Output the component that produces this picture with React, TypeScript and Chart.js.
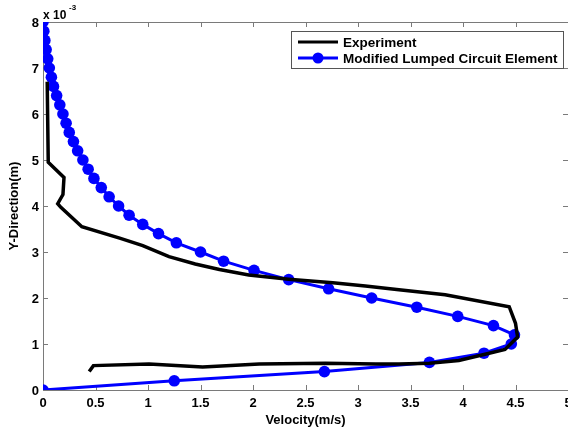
import React, { useEffect, useRef } from "react";
import { Chart, registerables } from "chart.js";

Chart.register(...registerables);

// Modified Lumped Circuit Element (velocity m/s vs y x10^-3 m)
const modelY = [0, 0.2, 0.4, 0.6, 0.8, 1.0, 1.2, 1.4, 1.6, 1.8, 2.0, 2.2, 2.4, 2.6, 2.8, 3.0, 3.2, 3.4, 3.6, 3.8, 4.0, 4.2, 4.4, 4.6, 4.8, 5.0, 5.2, 5.4, 5.6, 5.8, 6.0, 6.2, 6.4, 6.6, 6.8, 7.0, 7.2, 7.4, 7.6, 7.8, 8.0];
const modelV = [0, 1.25, 2.68, 3.68, 4.2, 4.46, 4.49, 4.29, 3.95, 3.56, 3.13, 2.72, 2.34, 2.01, 1.72, 1.5, 1.27, 1.1, 0.95, 0.82, 0.72, 0.63, 0.555, 0.485, 0.43, 0.38, 0.33, 0.29, 0.25, 0.22, 0.19, 0.16, 0.13, 0.1, 0.08, 0.06, 0.045, 0.03, 0.018, 0.008, 0];

// Experiment
const expV = [0.04, 0.05, 0.2, 0.19, 0.14, 0.17, 0.37, 0.73, 0.95, 1.2, 1.45, 1.68, 1.96, 2.34, 2.76, 3.07, 3.39, 3.83, 4.44, 4.5, 4.52, 4.4, 4.18, 3.96, 3.68, 3.39, 3.17, 2.69, 2.06, 1.52, 1.01, 0.48, 0.44];
const expY = [6.7, 4.95, 4.62, 4.25, 4.05, 3.97, 3.55, 3.3, 3.14, 2.9, 2.74, 2.62, 2.5, 2.41, 2.33, 2.26, 2.18, 2.07, 1.81, 1.45, 1.15, 0.88, 0.76, 0.64, 0.58, 0.565, 0.565, 0.58, 0.565, 0.5, 0.565, 0.53, 0.4];

const xTicks = [0, 0.5, 1, 1.5, 2, 2.5, 3, 3.5, 4, 4.5, 5];
const xTickLabels = ["0", "0.5", "1", "1.5", "2", "2.5", "3", "3.5", "4", "4.5", "5"];
const yTicks = [0, 1, 2, 3, 4, 5, 6, 7, 8];
const yTickLabels = ["0", "1", "2", "3", "4", "5", "6", "7", "8"];

const seriesNames = ["Experiment", "Modified Lumped Circuit Element"];
const xTitle = "Velocity(m/s)";
const yTitle = "Y-Direction(m)";

const FONT = "'Liberation Sans', Arial, Helvetica, sans-serif";

const matlabAxes = {
  id: "matlabAxes",
  beforeDatasetsDraw(chart: any) {
    const { ctx, chartArea: a, scales } = chart;
    const x = scales.x;
    const y = scales.y;
    ctx.save();
    ctx.strokeStyle = "#7a7a7a";
    ctx.lineWidth = 1;
    ctx.beginPath();
    ctx.moveTo(Math.round(a.left) + 0.5, Math.round(a.top) + 0.5);
    ctx.lineTo(Math.round(a.right) + 0.5, Math.round(a.top) + 0.5);
    ctx.lineTo(Math.round(a.right) + 0.5, Math.round(a.bottom) + 0.5);
    ctx.lineTo(Math.round(a.left) + 0.5, Math.round(a.bottom) + 0.5);
    ctx.closePath();
    ctx.stroke();
    const tl = 5;
    ctx.beginPath();
    xTicks.forEach((v) => {
      const px = Math.round(x.getPixelForValue(v)) + 0.5;
      ctx.moveTo(px, a.bottom);
      ctx.lineTo(px, a.bottom - tl);
      ctx.moveTo(px, a.top);
      ctx.lineTo(px, a.top + tl);
    });
    yTicks.forEach((v) => {
      const py = Math.round(y.getPixelForValue(v)) + 0.5;
      ctx.moveTo(a.left, py);
      ctx.lineTo(a.left + tl, py);
      ctx.moveTo(a.right, py);
      ctx.lineTo(a.right - tl, py);
    });
    ctx.stroke();

    ctx.fillStyle = "#000";
    ctx.font = `bold 13px ${FONT}`;
    ctx.textAlign = "center";
    ctx.textBaseline = "middle";
    xTicks.forEach((v, i) => {
      ctx.fillText(xTickLabels[i], x.getPixelForValue(v), a.bottom + 13);
    });
    ctx.textAlign = "right";
    yTicks.forEach((v, i) => {
      ctx.fillText(yTickLabels[i], a.left - 4, y.getPixelForValue(v) + 1);
    });

    // exponent label
    ctx.textAlign = "left";
    ctx.textBaseline = "alphabetic";
    ctx.font = `bold 12px ${FONT}`;
    ctx.fillText("x 10", a.left, 19);
    ctx.font = `bold 8px ${FONT}`;
    ctx.fillText("-3", a.left + 26, 10);

    // axis titles
    ctx.font = `bold 13px ${FONT}`;
    ctx.textAlign = "center";
    ctx.textBaseline = "middle";
    ctx.fillText(xTitle, x.getPixelForValue(2.5), a.bottom + 30);
    ctx.save();
    ctx.translate(14, y.getPixelForValue(4));
    ctx.rotate(-Math.PI / 2);
    ctx.fillText(yTitle, 0, 0);
    ctx.restore();
    ctx.restore();
  },
  afterDraw(chart: any) {
    const { ctx } = chart;
    ctx.save();
    const bx = 291, by = 31, bw = 272, bh = 37;
    ctx.fillStyle = "#fff";
    ctx.fillRect(bx, by, bw, bh);
    ctx.strokeStyle = "#555";
    ctx.lineWidth = 1;
    ctx.strokeRect(bx + 0.5, by + 0.5, bw, bh);
    const rows = [
      { y: 42, color: "#000000", marker: false },
      { y: 58, color: "#0000ff", marker: true },
    ];
    rows.forEach((r, i) => {
      ctx.strokeStyle = r.color;
      ctx.lineWidth = 3;
      ctx.beginPath();
      ctx.moveTo(298, r.y);
      ctx.lineTo(338, r.y);
      ctx.stroke();
      if (r.marker) {
        ctx.fillStyle = r.color;
        ctx.beginPath();
        ctx.arc(318, r.y, 5.5, 0, Math.PI * 2);
        ctx.fill();
      }
      ctx.fillStyle = "#000";
      ctx.font = `bold 13.5px ${FONT}`;
      ctx.textAlign = "left";
      ctx.textBaseline = "middle";
      ctx.fillText(seriesNames[i], 343, r.y + 1);
    });
    ctx.restore();
  },
};

export default function App() {
  const ref = useRef<HTMLCanvasElement | null>(null);
  useEffect(() => {
    if (!ref.current) return;
    const expData = expV.map((v, i) => ({ x: v, y: expY[i] }));
    const modelData = modelV.map((v, i) => ({ x: v, y: modelY[i] }));
    const chart = new Chart(ref.current, {
      type: "scatter",
      data: {
        datasets: [
          {
            label: seriesNames[0],
            data: expData,
            showLine: true,
            borderColor: "#000000",
            backgroundColor: "#000000",
            borderWidth: 3.5,
            pointRadius: 0,
            tension: 0,
          },
          {
            label: seriesNames[1],
            data: modelData,
            showLine: true,
            borderColor: "#0000ff",
            backgroundColor: "#0000ff",
            borderWidth: 3,
            pointRadius: 5.8,
            pointBorderWidth: 0,
            tension: 0,
          },
        ],
      },
      options: {
        responsive: false,
        animation: false,
        layout: { autoPadding: false, padding: { left: 43, top: 22, right: -1, bottom: 40 } },
        plugins: { legend: { display: false }, tooltip: { enabled: false } },
        scales: {
          x: { type: "linear", min: 0, max: 5, display: false },
          y: { type: "linear", min: 0, max: 8, display: false },
        },
      },
      plugins: [matlabAxes],
    });
    return () => chart.destroy();
  }, []);
  return (
    <div style={{ position: "fixed", left: 0, top: 0, width: 568, height: 430, background: "#fff" }}>
      <canvas ref={ref} width={568} height={430} />
    </div>
  );
}
